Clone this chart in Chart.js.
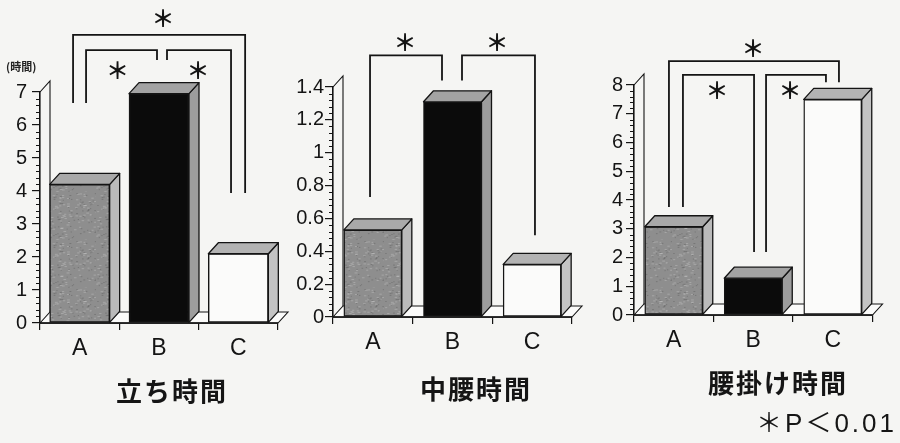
<!DOCTYPE html>
<html>
<head>
<meta charset="utf-8">
<script src="https://cdn.jsdelivr.net/npm/chart.js@4.4.1/dist/chart.umd.min.js"></script>
<style>
  html, body { margin: 0; padding: 0; background: #f5f5f3; }
  #wrap { position: relative; width: 900px; height: 443px; overflow: hidden; background: #f5f5f3; }
  #wrap canvas { position: absolute; left: 0; top: 0; }
  .ttl { position: absolute; transform: translate(-50%, -50%); white-space: nowrap;
         font-family: "Noto Sans CJK JP", sans-serif; font-weight: 700; font-size: 26px;
         letter-spacing: 2px; color: #151515; }
  .unit { position: absolute; font-family: "Noto Sans CJK JP", sans-serif; font-weight: 700;
          font-size: 11px; color: #222; white-space: nowrap; }
  .note { position: absolute; right: 3px; top: 402px; white-space: nowrap; color: #151515;
          font-family: "Liberation Sans", "Noto Sans CJK JP", sans-serif; font-size: 26px; letter-spacing: 3px; }
</style>
</head>
<body>
<div id="wrap">
  <canvas id="cStand" width="900" height="443"></canvas>
  <canvas id="cHalf" width="900" height="443"></canvas>
  <canvas id="cSit" width="900" height="443"></canvas>
  <div class="unit" style="left:6px;top:58px">(時間)</div>
  <div class="ttl" id="t0" style="left:172px;top:389px"></div>
  <div class="ttl" id="t1" style="left:476px;top:387px"></div>
  <div class="ttl" id="t2" style="left:778px;top:381px"></div>
  <div class="note">＊P＜0.01</div>
</div>
<script>
// ---- data -------------------------------------------------------------
const groups = ['A', 'B', 'C'];
const standHours = [4.2, 6.95, 2.1];        // 立ち時間
const halfCrouchHours = [0.53, 1.31, 0.32]; // 中腰時間
const sittingHours = [3.07, 1.28, 7.5];     // 腰掛け時間
const standTicks = [0, 1, 2, 3, 4, 5, 6, 7];
const halfTicks = [0, 0.2, 0.4, 0.6, 0.8, 1, 1.2, 1.4];
const sitTicks = [0, 1, 2, 3, 4, 5, 6, 7, 8];
const panelTitles = ['立ち時間', '中腰時間', '腰掛け時間'];

// ---- drawing helpers --------------------------------------------------
const DX = 10, DY = 11;          // depth of the pseudo-3D boxes
const INK = '#141414';
Chart.defaults.font.family = '"Liberation Sans", Arial, sans-serif';
Chart.defaults.color = INK;

// mottled grey surface for group A (deterministic hash speckle)
function speckle(base) {
  const c = document.createElement('canvas');
  c.width = c.height = 48;
  const g = c.getContext('2d');
  g.fillStyle = base;
  g.fillRect(0, 0, 48, 48);
  const h = (n) => { const s = Math.sin(n) * 43758.5453; return s - Math.floor(s); };
  for (let i = 0; i < 160; i++) {
    const px = h(i * 12.9898 + 1.7) * 48, py = h(i * 78.233 + 4.1) * 48, k = h(i * 3.71 + 9.2);
    g.fillStyle = k > 0.5 ? 'rgba(255,255,255,0.22)' : 'rgba(0,0,0,0.16)';
    g.fillRect(px, py, 1 + k * 2, 1);
  }
  return g.createPattern(c, 'repeat');
}
const fronts = [speckle('#8e8e8e'), '#0b0b0b', '#fbfbfa'];
const sides = ['#bababa', '#9d9d9d', '#c3c3c3'];
const tops = ['#a9a9a9', '#a3a3a3', '#b3b3b3'];

function poly(ctx, pts) {
  ctx.beginPath();
  ctx.moveTo(pts[0][0], pts[0][1]);
  for (let i = 1; i < pts.length; i++) ctx.lineTo(pts[i][0], pts[i][1]);
  ctx.closePath();
  ctx.fill();
  ctx.stroke();
}

const boxPlugin = {
  id: 'box3d',
  beforeDatasetsDraw(chart) {
    const { ctx, chartArea: a } = chart;
    ctx.save();
    ctx.fillStyle = '#fbfbfa';
    ctx.strokeStyle = INK;
    ctx.lineWidth = 1.1;
    // floor
    poly(ctx, [[a.left, a.bottom], [a.left + DX, a.bottom - DY], [a.right + DX, a.bottom - DY], [a.right, a.bottom]]);
    // side wall
    ctx.beginPath();
    ctx.moveTo(a.left, a.top);
    ctx.lineTo(a.left + DX, a.top - DY);
    ctx.lineTo(a.left + DX, a.bottom - DY);
    ctx.stroke();
    ctx.lineWidth = 1.6;
    ctx.beginPath();
    ctx.moveTo(a.left, a.bottom);
    ctx.lineTo(a.right, a.bottom);
    ctx.stroke();
    ctx.restore();
  },
  afterDatasetsDraw(chart) {
    const ctx = chart.ctx;
    ctx.save();
    ctx.strokeStyle = INK;
    ctx.lineWidth = 1.3;
    ctx.lineJoin = 'round';
    chart.getDatasetMeta(0).data.forEach((bar, i) => {
      const { x, y, base, width } = bar.getProps(['x', 'y', 'base', 'width'], true);
      const l = x - width / 2, r = x + width / 2;
      ctx.fillStyle = sides[i];
      poly(ctx, [[r, y], [r + DX, y - DY], [r + DX, base - DY], [r, base]]);
      ctx.fillStyle = tops[i];
      poly(ctx, [[l, y], [l + DX, y - DY], [r + DX, y - DY], [r, y]]);
    });
    ctx.restore();
  },
  afterDraw(chart, args, opts) {
    const { ctx, chartArea: a, scales } = chart;
    const ys = scales.y, xs = scales.x;
    ctx.save();
    ctx.strokeStyle = INK;
    // minor ticks on the value axis
    ctx.lineWidth = 1;
    const tv = opts.ticks;
    ctx.beginPath();
    for (let i = 0; i < tv.length - 1; i++) {
      const step = (tv[i + 1] - tv[i]) / 5;
      for (let k = 1; k < 5; k++) {
        const py = Math.round(ys.getPixelForValue(tv[i] + step * k)) + 0.5;
        ctx.moveTo(a.left - 4, py);
        ctx.lineTo(a.left, py);
      }
    }
    ctx.stroke();
    // significance brackets
    ctx.lineWidth = 1.8;
    ctx.fillStyle = INK;
    ctx.font = '700 23px "Noto Sans CJK JP"';
    ctx.textAlign = 'center';
    ctx.textBaseline = 'middle';
    (opts.brackets || []).forEach(b => {
      const x1 = xs.getPixelForValue(b.from) + b.fromOff;
      const x2 = xs.getPixelForValue(b.to) + b.toOff;
      const yt = ys.getPixelForValue(b.top);
      ctx.beginPath();
      ctx.moveTo(x1, ys.getPixelForValue(b.fromEnd));
      ctx.lineTo(x1, yt);
      ctx.lineTo(x2, yt);
      ctx.lineTo(x2, ys.getPixelForValue(b.toEnd));
      ctx.stroke();
      ctx.fillText('＊', (x1 + x2) / 2 + b.starDx, yt + b.starDy);
    });
    ctx.restore();
  }
};

function makePanel(id, values, ticks, layout, brackets) {
  const fmt = v => String(Math.round(v * 10) / 10);
  return new Chart(document.getElementById(id), {
    type: 'bar',
    data: {
      labels: groups,
      datasets: [{
        data: values,
        backgroundColor: fronts,
        borderColor: INK,
        borderWidth: 1.4,
        borderSkipped: false,
        barThickness: layout.barW
      }]
    },
    options: {
      responsive: false,
      animation: false,
      events: [],
      layout: { padding: { left: 0, top: layout.top, right: 900 - layout.right, bottom: 0 } },
      plugins: {
        legend: { display: false },
        tooltip: { enabled: false },
        box3d: { ticks: ticks, brackets: brackets }
      },
      scales: {
        x: {
          type: 'category',
          offset: true,
          afterFit: s => { s.height = 443 - layout.bottom; },
          grid: { offset: true, drawOnChartArea: false, tickLength: 7, color: INK, lineWidth: 1.2 },
          border: { display: true, color: INK, width: 1.6 },
          ticks: { padding: 5, color: INK, font: { size: 23 } }
        },
        y: {
          min: 0,
          max: ticks[ticks.length - 1],
          afterBuildTicks: s => { s.ticks = ticks.map(v => ({ value: v })); },
          afterFit: s => { s.width = layout.left; },
          grid: { drawOnChartArea: false, tickLength: 8, color: INK, lineWidth: 1.2 },
          border: { display: true, color: INK, width: 1.6 },
          ticks: { padding: layout.tickPad, color: INK, font: { size: 20 }, callback: fmt }
        }
      }
    },
    plugins: [boxPlugin]
  });
}

makePanel('cStand', standHours, standTicks,
  { left: 40, right: 278, top: 92, bottom: 323, barW: 60, tickPad: 5 },
  [
    { from: 0, fromOff: -6.6, to: 2, toOff: 6.8, top: 8.73, fromEnd: 6.67, toEnd: 3.94, starDx: 4, starDy: -17 },
    { from: 0, fromOff: 6.4, to: 1, toOff: -2, top: 8.27, fromEnd: 6.67, toEnd: 7.97, starDx: -4, starDy: 20 },
    { from: 1, fromOff: 8, to: 2, toOff: -7.3, top: 8.27, fromEnd: 7.97, toEnd: 3.94, starDx: -1, starDy: 20 }
  ]);

makePanel('cHalf', halfCrouchHours, halfTicks,
  { left: 333, right: 572, top: 87, bottom: 317, barW: 58, tickPad: 1 },
  [
    { from: 0, fromOff: -2.8, to: 1, toOff: -10.5, top: 1.593, fromEnd: 0.73, toEnd: 1.44, starDx: -1, starDy: -13 },
    { from: 1, fromOff: 9.5, to: 2, toOff: 2.8, top: 1.593, fromEnd: 1.44, toEnd: 0.497, starDx: -1.5, starDy: -13 }
  ]);

makePanel('cSit', sittingHours, sitTicks,
  { left: 634, right: 872.5, top: 85, bottom: 315, barW: 58, tickPad: 3 },
  [
    { from: 0, fromOff: -4.8, to: 2, toOff: 6.2, top: 8.83, fromEnd: 3.76, toEnd: 8.1, starDx: -1, starDy: -13 },
    { from: 0, fromOff: 9.2, to: 1, toOff: 0.8, top: 8.35, fromEnd: 3.76, toEnd: 2.19, starDx: -1.5, starDy: 15 },
    { from: 1, fromOff: 12.8, to: 2, toOff: -6.8, top: 8.35, fromEnd: 2.19, toEnd: 8.1, starDx: -6, starDy: 15 }
  ]);

panelTitles.forEach((t, i) => { document.getElementById('t' + i).textContent = t; });
</script>
</body>
</html>
